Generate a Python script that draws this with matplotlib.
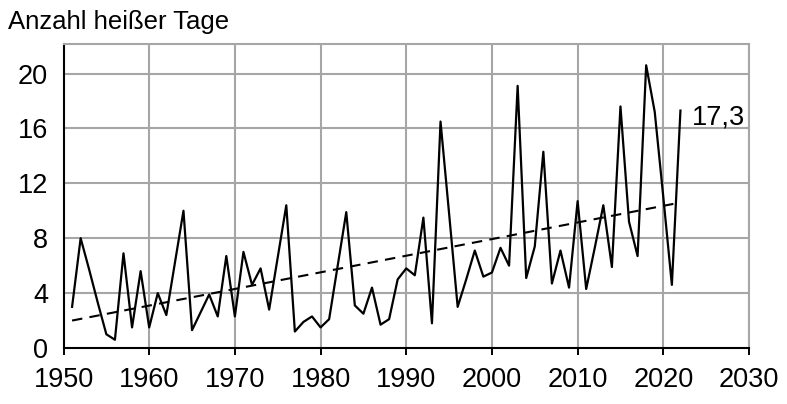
import numpy as np
import matplotlib
matplotlib.use('Agg')
import matplotlib.pyplot as plt
import matplotlib as mpl
mpl.rc('font', family='Liberation Sans')

# hot days per year
years = list(range(1951, 2023))
hot_days = [3.0, 8.0, 5.7, 3.3, 1.0, 0.6, 6.9, 1.5, 5.6, 1.5,
            4.0, 2.4, 6.2, 10.0, 1.3, 2.6, 3.9, 2.3, 6.7, 2.3,
            7.0, 4.6, 5.8, 2.8, 6.6, 10.4, 1.2, 1.9, 2.3, 1.5,
            2.1, 6.0, 9.9, 3.1, 2.5, 4.4, 1.7, 2.1, 5.0, 5.8,
            5.3, 9.5, 1.8, 16.5, 9.8, 3.0, 5.0, 7.1, 5.2, 5.5,
            7.3, 6.0, 19.1, 5.1, 7.4, 14.3, 4.7, 7.1, 4.4, 10.7,
            4.3, 7.3, 10.4, 5.9, 17.6, 9.2, 6.7, 20.6, 17.2, 11.0,
            4.6, 17.3]

# linear trend end points
trend_years = [1951, 2022]
trend_vals = [2.0, 10.6]

x_ticks = list(range(1950, 2031, 10))
y_ticks = [0, 4, 8, 12, 16, 20]
last_label = '17,3'

fig = plt.figure(figsize=(7.87, 4.04), dpi=100)
ax = fig.add_axes([0.0807, 0.1386, 0.871, 0.7525])

# grid
grid_col = '#a6a6a6'
for xv in x_ticks[1:]:
    ax.axvline(xv, color=grid_col, lw=1.5, zorder=1)
for yv in y_ticks[1:]:
    ax.axhline(yv, color=grid_col, lw=1.5, zorder=1)

ax.plot(years, hot_days, color='black', lw=1.6, zorder=3)
ax.plot(trend_years, trend_vals, color='black', lw=1.5, ls=(0, (5, 3.5)), zorder=3)
ax.text(2023.3, 16.3, last_label, fontsize=19.5, va='baseline', ha='left')

ax.set_xlim(1950, 2030)
ax.set_ylim(0, 22.15)
ax.set_xticks(x_ticks)
ax.set_yticks(y_ticks)
ax.tick_params(axis='x', direction='out', length=5, width=1.4, labelsize=19.5, pad=9)
ax.tick_params(axis='y', length=0, labelsize=19.5, pad=11)

for s in ['top', 'right']:
    ax.spines[s].set_color(grid_col)
    ax.spines[s].set_linewidth(1.5)
for s in ['left', 'bottom']:
    ax.spines[s].set_color('black')
    ax.spines[s].set_linewidth(1.5)

fig.text(0.01, 0.927, 'Anzahl heißer Tage', fontsize=18.5, va='baseline', ha='left')

fig.savefig('out.png', dpi=100)
